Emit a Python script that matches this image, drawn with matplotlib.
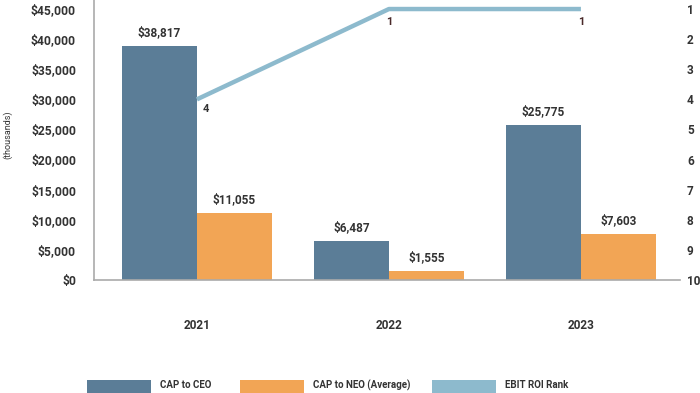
import matplotlib
matplotlib.use("Agg")
import matplotlib.pyplot as plt
from matplotlib.patches import Rectangle
import numpy as np

years = ["2021", "2022", "2023"]
cap_ceo = [38817, 6487, 25775]
cap_neo = [11055, 1555, 7603]
ebit_rank = [4, 1, 1]
series_names = ["CAP to CEO", "CAP to NEO (Average)", "EBIT ROI Rank"]

C_CEO = "#5b7d97"
C_NEO = "#f2a555"
C_LINE = "#8dbacd"
TXT = "#333333"

plt.rcParams["font.family"] = ["Roboto", "DejaVu Sans"]
plt.rcParams["font.weight"] = "bold"

fig = plt.figure(figsize=(7, 3.93), dpi=100)
ax = fig.add_axes([94/700, 1 - 280/393, (680-94)/700, 280/393])

x = np.arange(len(years))
w = 0.39
b1 = ax.bar(x - w/2, cap_ceo, w, color=C_CEO, linewidth=0)
b2 = ax.bar(x + w/2, cap_neo, w, color=C_NEO, linewidth=0)
for bars in (b1, b2):
    for b in bars:
        ax.annotate(f"${b.get_height():,.0f}", (b.get_x() + b.get_width()/2, b.get_height()),
                    xytext=(0, 5), textcoords="offset points", ha="center", va="bottom",
                    fontsize=8.5, color=TXT, weight="bold")

ax.set_xlim(-0.536, 2.516)
ax.set_ylim(0, 46500)
ax.set_yticks(np.arange(0, 45001, 5000))
ax.set_yticklabels([f"${v:,.0f}" for v in np.arange(0, 45001, 5000)])
ax.set_xticks(x)
ax.set_xticklabels(years)
ax.tick_params(axis="x", length=0, pad=28, labelsize=8.5, labelcolor=TXT)
ax.tick_params(axis="y", length=0, pad=13, labelsize=8.7, labelcolor=TXT)
for s in ("top", "right"):
    ax.spines[s].set_visible(False)
ax.spines["left"].set_color("#aaaaaa")
ax.spines["bottom"].set_color("#aaaaaa")
ax.spines["left"].set_linewidth(1.2)
ax.spines["bottom"].set_linewidth(1.2)

ax2 = ax.twinx()
ax2.plot(x, ebit_rank, color=C_LINE, linewidth=3.2, solid_capstyle="butt")
ax2.set_ylim(10, 0.7)
ax2.set_yticks(range(1, 11))
ax2.tick_params(axis="y", length=0, pad=5, labelsize=8.5, labelcolor=TXT)
for s in ax2.spines.values():
    s.set_visible(False)
ax2.annotate(str(ebit_rank[0]), (x[0], ebit_rank[0]), xytext=(4, -3), textcoords="offset points",
             ha="left", va="top", fontsize=8, color=TXT, weight="bold")
for i in (1, 2):
    ax2.annotate(str(ebit_rank[i]), (x[i], ebit_rank[i]), xytext=(0, -6), textcoords="offset points",
                 ha="center", va="top", fontsize=8, color="#4a2a2a", weight="bold")

fig.text(8/700, 1 - 135/393, "(thousands)", rotation=90, ha="center", va="center",
         fontsize=6.5, color=TXT, weight="normal")

# legend at the bottom
legend_items = [(87, C_CEO), (240, C_NEO), (432, C_LINE)]
for (px, col), name in zip(legend_items, series_names):
    fig.patches.append(Rectangle((px/700, 0), 64/700, 13/393, transform=fig.transFigure,
                                 facecolor=col, edgecolor="none"))
    fig.text((px + 73)/700, 1 - 385/393, name, ha="left", va="center", fontsize=7,
             color=TXT, weight="bold")

fig.savefig("out.png", dpi=100)
